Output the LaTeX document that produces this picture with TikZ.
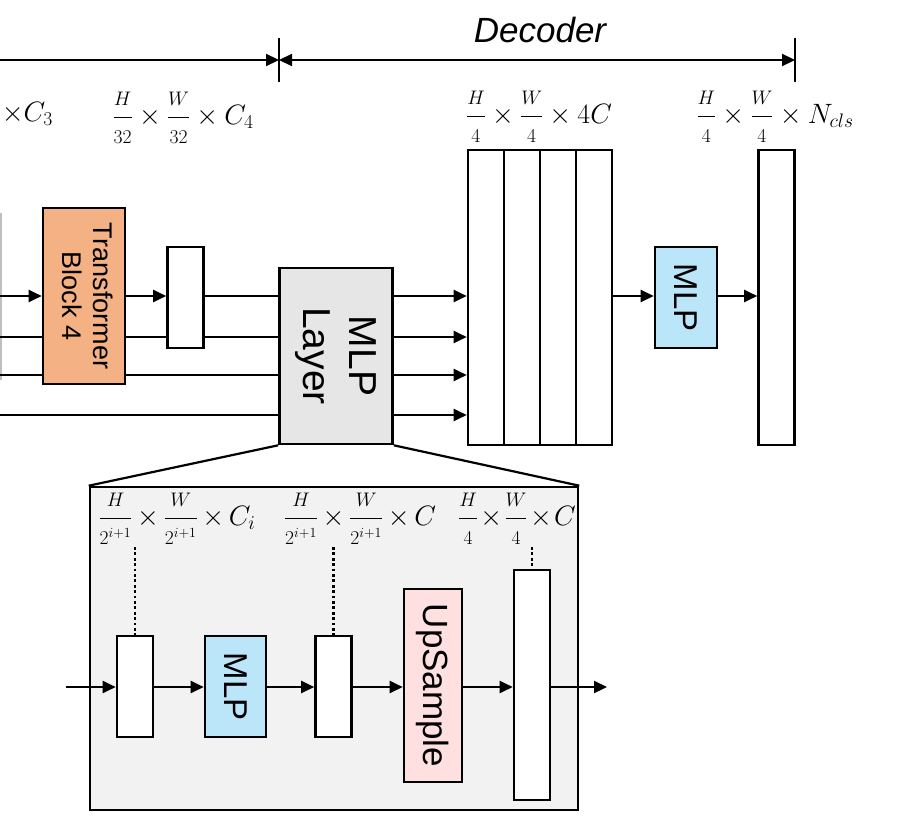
\RequirePackage{fix-cm}
\documentclass[tikz,border=0pt]{standalone}
\usepackage{amsmath}
\usepackage[no-math]{fontspec}
\setmainfont{Liberation Sans}
\usepackage{xcolor}
\usepackage{tikz}
\usetikzlibrary{positioning, arrows.meta, calc}

\definecolor{tforange}{HTML}{F4B183}
\definecolor{mlpblue}{HTML}{BBE6FA}
\definecolor{uppink}{HTML}{FFE0E0}
\definecolor{layergray}{HTML}{E6E6E6}
\definecolor{zoomgray}{HTML}{F2F2F2}

\newcommand{\vtext}[1]{\rotatebox{-90}{\begin{tabular}{@{}c@{}}#1\end{tabular}}}
\newcommand{\fr}[2]{\dfrac{\scriptstyle #1}{\scriptstyle #2}}

\begin{document}
\begin{tikzpicture}[
    x=1pt, y=-1pt,
    blk/.style={rectangle, draw=black, line width=2.6pt, inner sep=0pt, align=center},
    feat/.style={blk, fill=white, minimum width=36, minimum height=101},
    tall/.style={blk, fill=white, minimum width=36, minimum height=295},
    dim/.style={inner sep=0pt, font=\fontsize{28}{32}\selectfont},
    arrow/.style={-{Triangle[length=13pt, width=12pt]}, line width=2.2pt},
    span/.style={{Triangle[length=13pt, width=12pt]}-{Triangle[length=13pt, width=12pt]}, line width=2.2pt},
    wire/.style={line width=2.2pt},
    dots/.style={line width=2.8pt, dash pattern=on 2.8pt off 2.6pt}
]
    \useasboundingbox (0,0) rectangle (901,832);

    % Encoder / Decoder span
    \coordinate (enc) at (0,60);
    \coordinate (t1) at (279,60);
    \coordinate (t2) at (795,60);
    \draw[line width=2.6pt] ($(t1)+(0,-22)$) -- ($(t1)+(0,22)$);
    \draw[line width=2.6pt] ($(t2)+(0,-22)$) -- ($(t2)+(0,22)$);
    \draw[arrow] (enc) -- (t1);
    \draw[span] (t1) -- (t2);
    \node[font=\fontsize{35}{40}\selectfont\itshape] (decoder) at (540,30) {Decoder};

    % Cut-off encoder stage
    \draw[black!25, line width=1.5pt] (0.8,213) -- (0.8,380);

    % Encoder stage 4
    \node[blk, fill=tforange, minimum width=82, minimum height=176, font=\fontsize{27}{31}\selectfont] (tb4) at (84,296) {\vtext{Transformer\\Block 4}};
    \node[feat] (f4) at (185.5,297.5) {};

    % MLP Layer
    \node[blk, fill=layergray, minimum width=113, minimum height=176, font=\fontsize{39}{46}\selectfont] (mlp) at (336,356) {\vtext{MLP\\Layer}};

    % Decoder features
    \foreach \i/\x in {1/486,2/522,3/558,4/594}
        \node[tall] (d\i) at (\x,297.5) {};
    \node[blk, fill=mlpblue, minimum width=62, minimum height=101, font=\fontsize{33}{38}\selectfont] (dmlp) at (686,297.5) {\rotatebox{-90}{MLP}};
    \node[tall] (seg) at (776.5,297.5) {};

    % Shape labels
    \node[dim, anchor=east] (c3) at (53,114) {$\times C_3$};
    \node[dim] (c4) at (183,118) {$\fr{H}{32}\times\fr{W}{32}\times C_4$};
    \node[dim] (c4c) at (539,117) {$\fr{H}{4}\times\fr{W}{4}\times 4C$};
    \node[dim] (ncls) at (775,117) {$\fr{H}{4}\times\fr{W}{4}\times N_{cls}$};

    % Edges
    \foreach \k/\y in {0/296,1/337,2/375,3/415}
        \coordinate (in\k) at (0,\y);
    \draw[arrow] (in0) -- (in0 -| tb4.west);
    \draw[arrow] (in0 -| tb4.east) -- (in0 -| f4.west);
    \draw[wire] (in0 -| f4.east) -- (in0 -| mlp.west);
    \draw[wire] (in1) -- (in1 -| tb4.west);
    \draw[wire] (in1 -| tb4.east) -- (in1 -| f4.west);
    \draw[wire] (in1 -| f4.east) -- (in1 -| mlp.west);
    \draw[wire] (in2) -- (in2 -| tb4.west);
    \draw[wire] (in2 -| tb4.east) -- (in2 -| mlp.west);
    \draw[wire] (in3) -- (in3 -| mlp.west);
    \foreach \k in {0,...,3}
        \draw[arrow] (in\k -| mlp.east) -- (in\k -| d1.west);
    \draw[arrow] (in0 -| d4.east) -- (in0 -| dmlp.west);
    \draw[arrow] (in0 -| dmlp.east) -- (in0 -| seg.west);

    % Zoomed MLP Layer
    \node[blk, fill=zoomgray, minimum width=488, minimum height=323] (zoom) at (334,648.5) {};
    \draw[wire] (mlp.south west) -- (zoom.north west);
    \draw[wire] (mlp.south east) -- (zoom.north east);

    \node[feat] (z1) at (135,686.5) {};
    \node[blk, fill=mlpblue, minimum width=61, minimum height=101, font=\fontsize{33}{38}\selectfont] (zmlp) at (235.5,686.5) {\rotatebox{-90}{MLP}};
    \node[feat] (z2) at (333.5,686.5) {};
    \node[blk, fill=uppink, minimum width=58, minimum height=193, font=\fontsize{35}{40}\selectfont] (up) at (433,685.5) {\rotatebox{-90}{UpSample}};
    \node[blk, fill=white, minimum width=36, minimum height=230] (z3) at (532,685) {};

    \node[dim] (l1) at (177,519) {$\medmuskip=3mu\fr{H}{2^{i+1}}\times\fr{W}{2^{i+1}}\times C_i$};
    \node[dim] (l2) at (360,519) {$\medmuskip=3mu\fr{H}{2^{i+1}}\times\fr{W}{2^{i+1}}\times C$};
    \node[dim] (l3) at (517,519) {$\medmuskip=1.5mu\fr{H}{4}\times\fr{W}{4}\times C$};

    \coordinate (dt1) at (135,547);
    \coordinate (dt2) at (333.5,547);
    \coordinate (dt3) at (532,547);
    \draw[dots] (dt1) -- (z1.north);
    \draw[dots] (dt2) -- (z2.north);
    \draw[dots] (dt3) -- (z3.north);

    \coordinate (zin) at (66,687);
    \coordinate (zout) at (607,687);
    \draw[arrow] (zin) -- (zin -| z1.west);
    \draw[arrow] (zin -| z1.east) -- (zin -| zmlp.west);
    \draw[arrow] (zin -| zmlp.east) -- (zin -| z2.west);
    \draw[arrow] (zin -| z2.east) -- (zin -| up.west);
    \draw[arrow] (zin -| up.east) -- (zin -| z3.west);
    \draw[arrow] (zin -| z3.east) -- (zout);

\end{tikzpicture}
\end{document}
